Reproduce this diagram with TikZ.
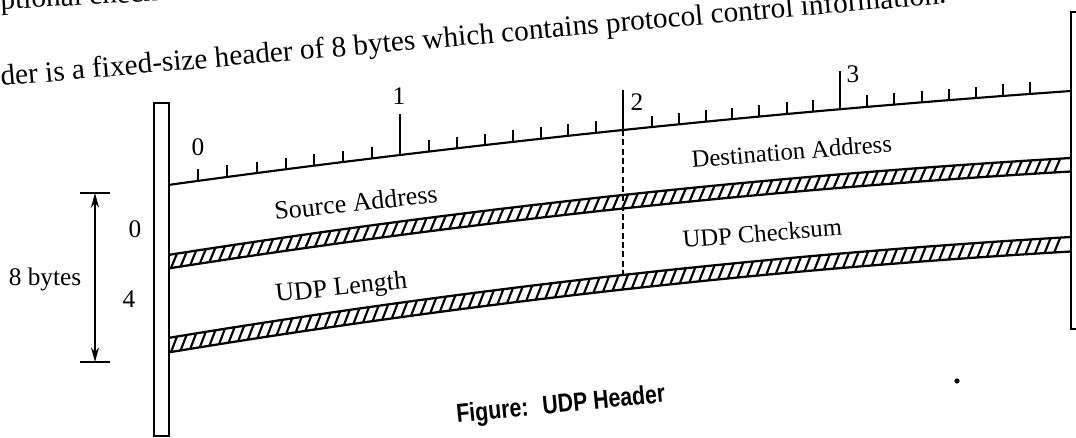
\documentclass[tikz,border=0pt]{standalone}
\usepackage{fontspec}
\setmainfont{Liberation Serif}
\newfontface\capfont[FakeStretch=0.82]{Liberation Sans Bold}
\usetikzlibrary{arrows.meta}
\tikzset{
  rule/.style={line width=1.6pt, line cap=round},
  tickline/.style={line width=1.5pt},
  hatchline/.style={line width=1.6pt},
  bandline/.style={line width=1.7pt},
  dashline/.style={line width=1.3pt, dash pattern=on 4.5pt off 2.5pt},
  num/.style={font=\fontsize{19}{22}\selectfont, inner sep=0pt},
  lblL/.style={font=\fontsize{19.5}{22}\selectfont, inner sep=0pt, anchor=base west},
  lblR/.style={font=\fontsize{18.5}{22}\selectfont, inner sep=0pt, anchor=base west},
  bodytext/.style={font=\fontsize{22}{24}\selectfont, inner sep=0pt, anchor=base west},
  captext/.style={font=\fontsize{19.5}{22}\capfont, inner sep=0pt, anchor=base west},
}
\begin{document}
\begin{tikzpicture}[x=0.75pt,y=-0.75pt,
  declare function={
    sx(\x)=(\x-168)/100;
    lb(\x)=185-13.792*sx(\x)+0.3746*sx(\x)*sx(\x);
    ha(\x)=255-15.670*sx(\x)+0.5457*sx(\x)*sx(\x);
    hb(\x)=338-16.549*sx(\x)+0.594*sx(\x)*sx(\x);
  }]
\path[use as bounding box, fill=white] (0,0) rectangle (1076,438);
\clip (0,0) rectangle (1076,438);

% page text
\node[bodytext, rotate=3] (t0) at (-14,10) {optional checksum};
\node[bodytext, rotate=5.0] (t1) at (1,86) {der is a fixed-size header of 8 bytes which contains protocol control information.};

% left bar and right frame
\draw[rule] (154,103) rectangle (169,436);
\draw[rule] (1077,12) -- (1071,12) -- (1071,329) -- (1077,329);

% ruler baseline
\draw[rule] plot[domain=169:1071, samples=80] (\x,{lb(\x)});
\foreach \x in {198,227,257,286,314,343,372,429,457,485,513,541,568,596,652,679,706,732,759,787,813,867,894,922,949,976,1003,1030}
  \draw[tickline] (\x,{lb(\x)}) -- (\x,{lb(\x)-11.5});
\foreach \x/\h in {400/41,623/40,840/38}
  \draw[tickline] (\x,{lb(\x)}) -- (\x,{lb(\x)-\h});

% hatched bands
\draw[bandline] plot[domain=169:1071, samples=80] (\x,{ha(\x)});
\draw[bandline] plot[domain=169:1071, samples=80] (\x,{ha(\x)+13.5});
\draw[bandline] plot[domain=169:1071, samples=80] (\x,{hb(\x)});
\draw[bandline] plot[domain=169:1071, samples=80] (\x,{hb(\x)+14.5});
\foreach \i in {0,...,92} {
  \pgfmathsetmacro\xa{171+9.6*\i}
  \pgfmathsetmacro\xb{\xa+6}
  \draw[hatchline] (\xa,{ha(\xa)+13.5}) -- (\xb,{ha(\xb)});
  \draw[hatchline] (\xa,{hb(\xa)+14.5}) -- (\xb,{hb(\xb)});
}

% dashed divider
\coordinate (dtop) at (623,{lb(623)});
\coordinate (dbot) at (623,{hb(623)});
\draw[dashline] (dtop) -- (dbot);

% byte numbers
\node[num] (b0) at (198,147) {0};
\node[num] (b1) at (399,96) {1};
\node[num] (b2) at (637,102) {2};
\node[num] (b3) at (853,74) {3};

% field labels
\node[lblL, rotate=6.2] (src) at (275,220) {Source Address};
\node[lblL, rotate=6] (len) at (276,302) {UDP Length};
\node[lblR, rotate=4.6] (dst) at (692,168) {Destination Address};
\node[lblR, rotate=4.6] (chk) at (683,248) {UDP Checksum};

% size annotation
\coordinate (atop) at (95,193);
\coordinate (abot) at (95,362);
\draw[line width=1.4pt] (80,193) -- (110,193);
\draw[line width=1.4pt] (80,362) -- (110,362);
\draw[line width=1.2pt, {Stealth[length=11pt,width=6pt]}-{Stealth[length=11pt,width=6pt]}] (atop) -- (abot);
\node[num] (sz) at (45,279) {8 bytes};
\node[num] (o0) at (135,229) {0};
\node[num] (o4) at (129,299) {4};

% caption
\node[captext, rotate=5.7] (cap) at (457,423) {Figure:\hspace{0.55em}UDP Header};
\fill (957,381) circle (2.6);
\end{tikzpicture}
\end{document}
